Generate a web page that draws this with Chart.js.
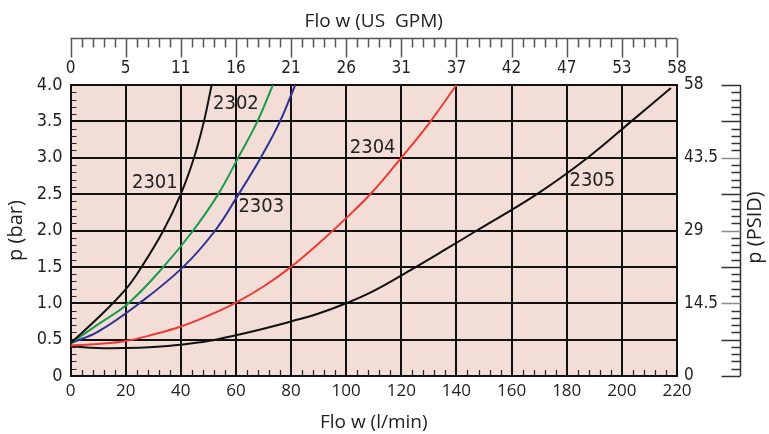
<!DOCTYPE html>
<html>
<head>
<meta charset="utf-8">
<script src="https://cdn.jsdelivr.net/npm/chart.js@4.4.0/dist/chart.umd.min.js"></script>
<style>
  html, body { margin: 0; padding: 0; background: #ffffff; }
  #wrap { width: 769px; height: 434px; }
</style>
</head>
<body>
<div id="wrap"><canvas id="c" width="769" height="434"></canvas></div>
<script>
// ---- Data (flow in l/min, pressure drop in bar) ----
const flow2301 = [0, 10, 20, 25.8, 33.7, 40, 44.8, 48.4, 51.2];
const bar2301  = [0.45, 0.80, 1.19, 1.5, 2.0, 2.5, 3.0, 3.5, 4.0];

const flow2302 = [0, 10, 21, 33.7, 44.5, 53.6, 60.8, 67.8, 73.4];
const bar2302  = [0.45, 0.71, 1.0, 1.5, 2.0, 2.5, 3.0, 3.5, 4.0];

const flow2303 = [0, 10, 25, 40.9, 52.5, 61, 69, 76.0, 81.5];
const bar2303  = [0.45, 0.61, 1.0, 1.5, 2.0, 2.5, 3.0, 3.5, 4.0];

const flow2304 = [0, 10, 20, 30, 40, 50, 60, 70, 80, 90, 100, 110, 120, 130, 140];
const bar2304  = [0.42, 0.44, 0.48, 0.57, 0.68, 0.83, 1.01, 1.23, 1.50, 1.82, 2.17, 2.55, 3.0, 3.47, 4.0];

const flow2305 = [0, 10, 20, 30, 40, 50, 60, 70, 80, 90, 100, 110, 124.4, 136, 147.4, 169.2, 187.6, 203.4, 217.8];
const bar2305  = [0.41, 0.385, 0.385, 0.40, 0.43, 0.48, 0.56, 0.65, 0.75, 0.86, 1.0, 1.17, 1.48, 1.74, 2.0, 2.5, 3.0, 3.5, 3.96];

const seriesNames = ['2301', '2302', '2303', '2304', '2305'];

// Tick labels
const gpmTickLabels = ['0', '5', '11', '16', '21', '26', '31', '37', '42', '47', '53', '58'];
const psidTickLabels = ['0', '14.5', '29', '43.5', '58'];

// Curve label anchors (data coordinates)
const labelFlow = [30.6, 60.0, 69.2, 109.6, 189.3];
const labelBar  = [2.66, 3.74, 2.32, 3.14, 2.69];

// ---- Styling ----
const NARROW = "'Liberation Sans Narrow','DejaVu Sans Condensed','Roboto',sans-serif";
const HUM = "'Open Sans','Noto Sans',sans-serif";
const colors = ['#111111', '#1a9b4b', '#2e3192', '#ec3b35', '#111111'];
const flows = [flow2301, flow2302, flow2303, flow2304, flow2305];
const bars = [bar2301, bar2302, bar2303, bar2304, bar2305];

const datasets = seriesNames.map((n, i) => ({
  label: n,
  data: flows[i].map((f, j) => ({ x: f, y: bars[i][j] })),
  borderColor: colors[i],
  borderWidth: 2,
  pointRadius: 0,
  fill: false,
  tension: 0.4,
  xAxisID: 'x',
  yAxisID: 'y'
}));

const decor = {
  id: 'decor',
  beforeDraw(chart) {
    const { ctx, chartArea: a } = chart;
    ctx.save();
    ctx.fillStyle = '#f2ddd7';
    ctx.fillRect(a.left, a.top, a.right - a.left, a.bottom - a.top);
    ctx.restore();
  },
  afterDatasetsDraw(chart) {
    const { ctx } = chart;
    const xs = chart.scales.x, ys = chart.scales.y;
    ctx.save();
    ctx.fillStyle = '#222';
    ctx.font = "20px " + NARROW;
    ctx.textAlign = 'center';
    ctx.textBaseline = 'middle';
    seriesNames.forEach((n, i) => {
      ctx.fillText(n, xs.getPixelForValue(labelFlow[i]), ys.getPixelForValue(labelBar[i]));
    });
    ctx.restore();
  },
  afterDraw(chart) {
    const { ctx, chartArea: a } = chart;
    const xs = chart.scales.x, ys = chart.scales.y;
    ctx.save();
    // inner minor ticks (left and bottom)
    ctx.strokeStyle = '#222';
    ctx.lineWidth = 1.2;
    ctx.beginPath();
    for (let k = 1; k < 40; k++) {
      if (k % 5 === 0) continue;
      const y = Math.round(ys.getPixelForValue(k / 10)) + 0.5;
      ctx.moveTo(a.left, y); ctx.lineTo(a.left + 6, y);
    }
    for (let f = 4; f < 220; f += 4) {
      if (f % 20 === 0) continue;
      const x = Math.round(xs.getPixelForValue(f)) + 0.5;
      ctx.moveTo(x, a.bottom); ctx.lineTo(x, a.bottom - 6);
    }
    ctx.stroke();

    // top ruler (US GPM)
    const ry = 38.5;
    ctx.strokeStyle = '#555';
    ctx.lineWidth = 1.5;
    ctx.beginPath();
    ctx.moveTo(xs.getPixelForValue(0), ry); ctx.lineTo(xs.getPixelForValue(220), ry);
    for (let f = 0; f <= 220; f += 4) {
      const x = Math.round(xs.getPixelForValue(f)) + 0.5;
      ctx.moveTo(x, ry); ctx.lineTo(x, ry + (f % 20 === 0 ? 19 : 9));
    }
    ctx.stroke();

    // right ruler (PSID)
    const rx = 740.5;
    ctx.lineWidth = 1.5;
    ctx.strokeStyle = '#333';
    ctx.beginPath();
    ctx.moveTo(rx, ys.getPixelForValue(0)); ctx.lineTo(rx, ys.getPixelForValue(4));
    for (let k = 0; k <= 40; k++) {
      if (k % 5 === 0) continue;
      const y = Math.round(ys.getPixelForValue(k / 10)) + 0.5;
      ctx.moveTo(rx, y); ctx.lineTo(rx - 9, y);
    }
    ctx.stroke();
    for (let k = 0; k <= 8; k++) {
      const y = Math.round(ys.getPixelForValue(k / 2)) + 0.5;
      ctx.strokeStyle = (k % 2 === 0 && k !== 0 && k !== 8) ? '#8a8a8a' : '#333';
      ctx.beginPath();
      ctx.moveTo(rx, y); ctx.lineTo(rx - 19, y);
      ctx.stroke();
    }

    // right title
    ctx.fillStyle = '#222';
    ctx.font = "20px " + HUM;
    ctx.textAlign = 'center';
    ctx.textBaseline = 'middle';
    ctx.translate(755, (a.top + a.bottom) / 2 - 3);
    ctx.rotate(-Math.PI / 2);
    ctx.fillText('p (PSID)', 0, 0);
    ctx.restore();
  }
};

new Chart(document.getElementById('c'), {
  type: 'line',
  data: { datasets },
  options: {
    responsive: false,
    animation: false,
    devicePixelRatio: 1,
    layout: { padding: 0 },
    plugins: { legend: { display: false }, tooltip: { enabled: false } },
    scales: {
      x: {
        type: 'linear', position: 'bottom', min: 0, max: 220,
        ticks: { stepSize: 20, color: '#222', font: { size: 17, family: HUM }, padding: 5, maxRotation: 0 },
        grid: { color: '#111', lineWidth: 2, drawTicks: false },
        border: { display: true, color: '#111', width: 2 },
        title: { display: true, text: 'Flo w (l/min)', color: '#222', font: { size: 19, family: HUM }, padding: { top: 0, bottom: 0 } },
        afterFit(s) { s.height = 58; }
      },
      x2: {
        type: 'linear', position: 'top', min: 0, max: 220,
        ticks: { stepSize: 20, color: '#222', font: { size: 17, family: NARROW }, padding: 6, maxRotation: 0,
          callback: (v, i) => gpmTickLabels[i] },
        grid: { display: false, drawTicks: false },
        border: { display: true, color: '#111', width: 2 },
        title: { display: true, text: 'Flo w (US  GPM)', color: '#222', font: { size: 19, family: HUM }, padding: { top: 10, bottom: 0 } },
        afterFit(s) { s.height = 85; }
      },
      y: {
        type: 'linear', position: 'left', min: 0, max: 4,
        ticks: { stepSize: 0.5, color: '#222', font: { size: 18, family: NARROW }, padding: 8,
          callback: v => Number(v).toFixed(1).replace('0.0', '0') },
        grid: { color: '#111', lineWidth: 2, drawTicks: false },
        border: { display: true, color: '#111', width: 2 },
        title: { display: true, text: 'p (bar)', color: '#222', font: { size: 20, family: HUM }, padding: { top: 4, bottom: 0 } },
        afterFit(s) { s.width = 70.5; }
      },
      y2: {
        type: 'linear', position: 'right', min: 0, max: 4,
        ticks: { stepSize: 1, color: '#222', font: { size: 17, family: NARROW }, padding: 7,
          callback: (v, i) => psidTickLabels[i] },
        grid: { display: false, drawTicks: false },
        border: { display: true, color: '#111', width: 2 },
        afterFit(s) { s.width = 92; }
      }
    }
  },
  plugins: [decor]
});
</script>
</body>
</html>
